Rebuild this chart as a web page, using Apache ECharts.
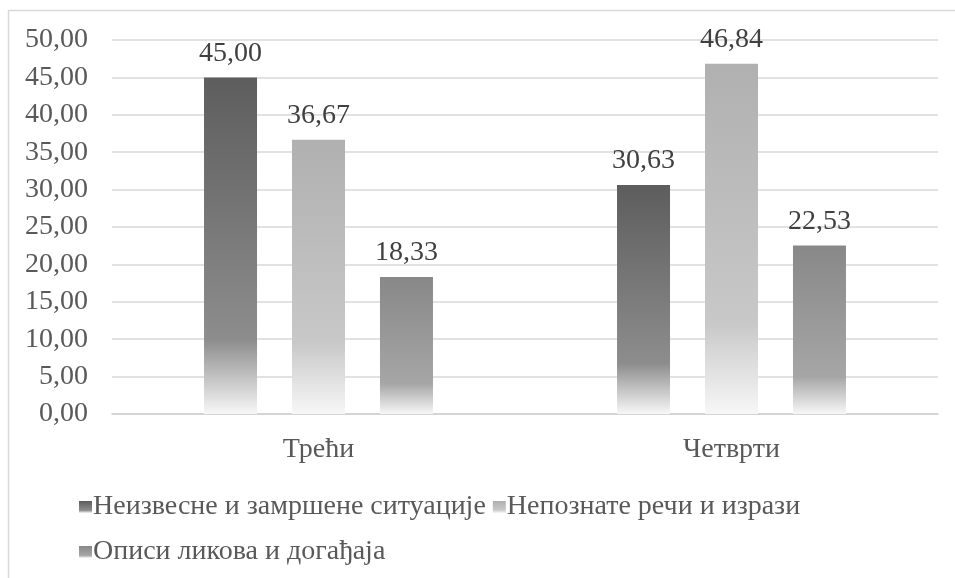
<!DOCTYPE html>
<html>
<head>
<meta charset="utf-8">
<script src="https://cdn.jsdelivr.net/npm/echarts@6/dist/echarts.min.js"></script>
<style>
  html, body { margin: 0; padding: 0; background: #ffffff; }
  #chart { width: 955px; height: 578px; }
</style>
</head>
<body>
<div id="chart"></div>
<script>
// Grades and the share of each difficulty type (percent)
const categories = ['Трећи', 'Четврти'];
const seriesNames = [
  'Неизвесне и замршене ситуације',
  'Непознате речи и изрази',
  'Описи ликова и догађаја'
];
const uncertainSituations = [45.00, 30.63];
const unknownWords = [36.67, 46.84];
const characterDescriptions = [18.33, 22.53];
const yTicks = [0, 5, 10, 15, 20, 25, 30, 35, 40, 45, 50];

const FONT = '"Liberation Serif", "Times New Roman", serif';
const TEXT = '#595959';
const SIZE = 28;

// Vertical fade: solid tone down most of the bar, then washing out to near white
function fade(top, mid, stop) {
  return {
    type: 'linear', x: 0, y: 0, x2: 0, y2: 1,
    colorStops: [
      { offset: 0, color: top },
      { offset: stop, color: mid },
      { offset: 1, color: '#f7f7f7' }
    ]
  };
}
const fills = [
  fade('#5d5d5d', '#8d8d8d', 0.78),
  fade('#b0b0b0', '#c8c8c8', 0.74),
  fade('#888888', '#a6a6a6', 0.78)
];
const values = [uncertainSituations, unknownWords, characterDescriptions];

const fmt = v => v.toFixed(2).replace('.', ',');

const series = seriesNames.map((name, i) => ({
  name,
  type: 'bar',
  data: values[i],
  barWidth: 53,
  barGap: '66%',
  itemStyle: { color: fills[i] },
  label: {
    show: true,
    position: 'top',
    distance: 10,
    formatter: p => fmt(p.value),
    fontFamily: FONT,
    fontSize: SIZE,
    color: '#404040'
  }
}));

const legendBase = {
  orient: 'horizontal',
  left: 74,
  itemWidth: 13,
  itemHeight: 12,
  itemGap: 7,
  icon: 'rect',
  textStyle: { fontFamily: FONT, fontSize: SIZE, color: TEXT, padding: [0, 0, 0, -4] }
};

const chart = echarts.init(document.getElementById('chart'));
chart.setOption({
  animation: false,
  backgroundColor: '#ffffff',
  graphic: [{
    type: 'rect',
    shape: { x: 8.5, y: 10.5, width: 1000, height: 700 },
    style: { fill: 'none', stroke: '#d9d9d9', lineWidth: 1.5 },
    silent: true,
    z: -10
  }],
  grid: { left: 112, right: 17, top: 40, bottom: 164 },
  legend: [
    Object.assign({}, legendBase, { top: 488, data: seriesNames.slice(0, 2) }),
    Object.assign({}, legendBase, { top: 533, data: seriesNames.slice(2) })
  ],
  xAxis: {
    type: 'category',
    data: categories,
    axisLine: { lineStyle: { color: '#d0d0d0', width: 1.5 } },
    axisTick: { show: false },
    axisLabel: { fontFamily: FONT, fontSize: SIZE, color: TEXT, margin: 22 }
  },
  yAxis: {
    type: 'value',
    min: yTicks[0],
    max: yTicks[yTicks.length - 1],
    interval: yTicks[1] - yTicks[0],
    axisLine: { show: false },
    axisTick: { show: false },
    splitLine: { lineStyle: { color: '#d9d9d9', width: 1.5 } },
    axisLabel: {
      fontFamily: FONT, fontSize: SIZE, color: TEXT, margin: 24,
      formatter: v => fmt(v)
    }
  },
  series
});
</script>
</body>
</html>
